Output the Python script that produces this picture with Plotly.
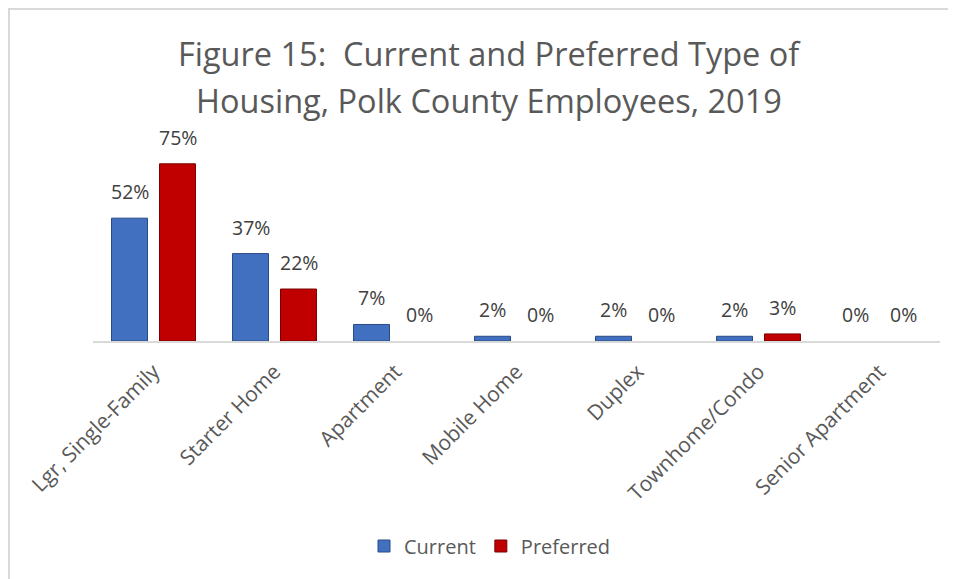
import plotly.graph_objects as go

categories = ["Lgr, Single-Family", "Starter Home", "Apartment", "Mobile Home",
              "Duplex", "Townhome/Condo", "Senior Apartment"]
current = [52, 37, 7, 2, 2, 2, 0]
preferred = [75, 22, 0, 0, 0, 3, 0]
title_lines = ["Figure 15:  Current and Preferred Type of",
               "Housing, Polk County Employees, 2019"]

# page is rendered with an 8px body margin; work in page pixel coordinates
OFF = 8
W, H = 956 - OFF, 579 - OFF
PL, PR, PT, PB = 93, 940, 152, 341          # plot area in page pixels
ML, MR, MT, MB = PL - OFF, W - (PR - OFF), PT - OFF, H - (PB - OFF)
PW, PH = W - ML - MR, H - MT - MB


def px_x(p):
    return (p - PL) / PW


def px_y(p):
    return (PB - p) / PH


FONT = "Open Sans"
fig = go.Figure()
fig.add_trace(go.Bar(name="Current", x=categories, y=current,
                     marker=dict(color="#4170C0",
                                 line=dict(color="#2a4a85",
                                           width=[1 if v > 0 else 0 for v in current]))))
fig.add_trace(go.Bar(name="Preferred", x=categories, y=preferred,
                     marker=dict(color="#C00000",
                                 line=dict(color="#7a0000",
                                           width=[1 if v > 0 else 0 for v in preferred]))))

ann = []
for vals, xs in ((current, -24), (preferred, 24)):
    for c, v in zip(categories, vals):
        ann.append(dict(x=c, y=v, xref="x", yref="y", text=f"{v}%", showarrow=False,
                        xshift=xs, yshift=11, yanchor="bottom",
                        font=dict(family=FONT, size=19.5, color="#404040")))
for i, t in enumerate(title_lines):
    ann.append(dict(x=px_x(489), y=px_y(53 + 47 * i), xref="paper", yref="paper",
                    text=t, showarrow=False, xanchor="center", yanchor="middle",
                    font=dict(family=FONT, size=32.5, color="#595959")))

fig.update_layout(
    width=W, height=H,
    margin=dict(l=ML, r=MR, t=MT, b=MB),
    paper_bgcolor="white", plot_bgcolor="white",
    barmode="group", bargap=0.207, bargroupgap=0.25,
    annotations=ann,
    showlegend=True,
    legend=dict(orientation="h", x=px_x(490), y=px_y(546), xanchor="center", yanchor="middle",
                font=dict(family=FONT, size=20, color="#595959"), itemwidth=30,
                traceorder="normal"),
    xaxis=dict(tickangle=-45, tickfont=dict(family=FONT, size=21, color="#595959"),
               showline=True, linecolor="#d9d9d9", linewidth=2, ticks="", showgrid=False,
               ticklabelstandoff=8),
    yaxis=dict(range=[0, 80], visible=False, showgrid=False, zeroline=False),
    shapes=[dict(type="rect", xref="paper", yref="paper",
                 x0=px_x(9), x1=px_x(1000), y0=px_y(700), y1=px_y(9),
                 line=dict(color="#d9d9d9", width=2), fillcolor="rgba(0,0,0,0)", layer="below")],
)
fig.write_html("out.html")
